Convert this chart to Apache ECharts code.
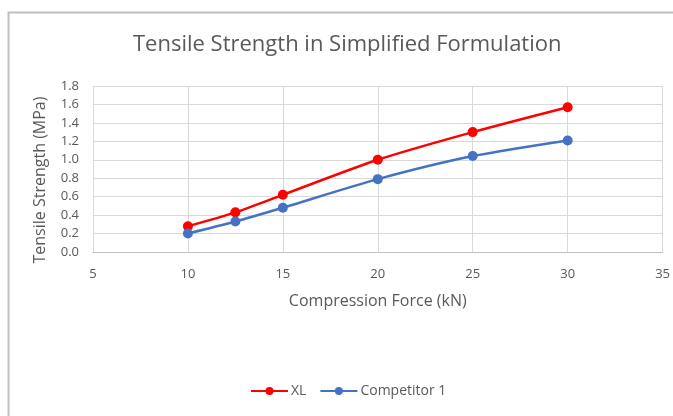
<!DOCTYPE html>
<html>
<head>
<meta charset="utf-8">
<script src="https://cdn.jsdelivr.net/npm/echarts@6/dist/echarts.min.js"></script>
<style>
html,body{margin:0;padding:0;background:#fff;}
#chart{width:673px;height:416px;}
</style>
</head>
<body>
<div id="chart"></div>
<script>
var forces = [10, 12.5, 15, 20, 25, 30];
var xlValues = [0.28, 0.43, 0.62, 1.00, 1.30, 1.57];
var competitorValues = [0.20, 0.33, 0.48, 0.79, 1.04, 1.21];
var seriesNames = ['XL', 'Competitor 1'];

function pairs(xs, ys) { return xs.map(function (x, i) { return [x, ys[i]]; }); }

var FONT = '"Open Sans", "Liberation Sans", sans-serif';
var chart = echarts.init(document.getElementById('chart'), null, {renderer: 'canvas'});
chart.setOption({
  animation: false,
  backgroundColor: '#ffffff',
  title: {
    text: 'Tensile Strength in Simplified Formulation',
    left: 128,
    top: 29,
    textStyle: {fontFamily: FONT, fontSize: 22, fontWeight: 'normal', color: '#595959'}
  },
  graphic: [{
    type: 'rect',
    shape: {x: 8.5, y: 12.5, width: 700, height: 420},
    style: {fill: 'none', stroke: '#bfbfbf', lineWidth: 2},
    z: -1
  }],
  legend: {
    bottom: 13,
    left: 245,
    itemWidth: 37,
    itemHeight: 10,
    itemGap: 13,
    data: seriesNames,
    textStyle: {fontFamily: FONT, fontSize: 14, color: '#595959', padding: [0, 0, 0, -2]}
  },
  grid: {left: 93, right: 10, top: 86, bottom: 164, containLabel: false},
  xAxis: {
    type: 'value',
    min: 5, max: 35, interval: 5,
    name: 'Compression Force (kN)',
    nameLocation: 'middle',
    nameGap: 41,
    nameTextStyle: {fontFamily: FONT, fontSize: 16, color: '#595959'},
    axisLine: {show: true, lineStyle: {color: '#bfbfbf', width: 1}},
    axisTick: {show: false},
    axisLabel: {fontFamily: FONT, fontSize: 13, color: '#595959', margin: 16},
    splitLine: {show: true, lineStyle: {color: '#d9d9d9', width: 1}}
  },
  yAxis: {
    type: 'value',
    min: 0, max: 1.8, interval: 0.2,
    name: 'Tensile Strength (MPa)',
    nameLocation: 'middle',
    nameGap: 45,
    nameTextStyle: {fontFamily: FONT, fontSize: 16, color: '#595959', padding: [0, 22, 0, 0]},
    axisLine: {show: true, lineStyle: {color: '#d9d9d9', width: 1}},
    axisTick: {show: false},
    axisLabel: {fontFamily: FONT, fontSize: 13, color: '#595959', margin: 14,
      formatter: function (v) { return v.toFixed(1); }},
    splitLine: {show: true, lineStyle: {color: '#d9d9d9', width: 1}}
  },
  series: [
    {
      name: seriesNames[0], type: 'line', data: pairs(forces, xlValues),
      smooth: 0.25, symbol: 'circle', symbolSize: 10,
      lineStyle: {color: '#ff0000', width: 2.5},
      itemStyle: {color: '#ff0000'}
    },
    {
      name: seriesNames[1], type: 'line', data: pairs(forces, competitorValues),
      smooth: 0.25, symbol: 'circle', symbolSize: 10,
      lineStyle: {color: '#4472c4', width: 2.5},
      itemStyle: {color: '#4472c4'}
    }
  ]
});
</script>
</body>
</html>
